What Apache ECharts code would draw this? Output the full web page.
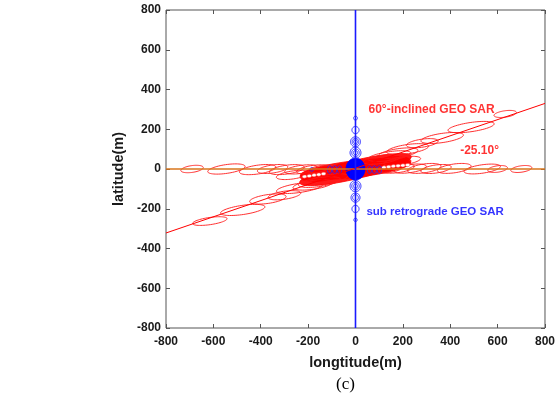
<!DOCTYPE html>
<html><head><meta charset="utf-8">
<script src="https://cdn.jsdelivr.net/npm/echarts@6/dist/echarts.min.js"></script>
<style>html,body{margin:0;padding:0;background:#fff}#c{width:558px;height:403px}</style>
</head><body><div id="c"></div>
<script>
// axis ranges (m)
const xRange = [-800, 800];
const yRange = [-800, 800];
const tickStep = 200;

// reference lines [x1, y1, x2, y2]
const horizLine = [[-800, 0, 800, 0]];
const inclinedLine = [[-800, -322, 800, 330]];
const verticalLine = [[0, -800, 0, 800]];

// red ellipses along the horizontal direction: [cx, cy, semiMajor, semiMinor, tiltDeg]
const redHorizEllipses = [
  [-690, 0, 48, 17, 10], [-545, 0, 80, 22, 10], [-413, -3, 78, 22, 10],
  [-350, 0, 65, 20, 10], [-290, -3, 75, 22, 10], [-265, -30, 70, 20, 10],
  [-230, -2, 70, 20, 10], [-180, -2, 70, 20, 10], [-140, 0, 60, 18, 10],
  [700, 0, 45, 16, 10], [600, 0, 42, 16, 10], [535, 0, 78, 21, 10],
  [417, 3, 72, 22, 10], [340, 0, 65, 20, 10], [290, 3, 72, 22, 10],
  [230, 2, 70, 20, 10], [198, 40, 78, 20, 10], [180, 2, 70, 20, 10],
  [140, 0, 60, 18, 10]
];
// red ellipses along the inclined direction
const redInclEllipses = [
  [-615, -262, 74, 18, 10], [-476, -206, 95, 23, 10], [-370, -151, 78, 22, 10],
  [-300, -132, 70, 20, 10], [-236, -95, 99, 23, 10], [-180, -80, 85, 22, 10],
  [-152, -66, 90, 22, 10], [-110, -48, 80, 20, 10],
  [632, 277, 48, 16, 10], [488, 211, 99, 23, 10], [366, 156, 91, 23, 10],
  [282, 130, 68, 20, 10], [220, 100, 90, 23, 10], [180, 80, 85, 22, 10],
  [143, 65, 92, 22, 10], [110, 48, 80, 20, 10]
];
// dense red core
const redCore = [
  [0, 0, 235, 42, 8], [0, -3, 245, 46, 16],
  [-140, -25, 95, 34, 10], [140, 25, 95, 34, 10]
];
// small white ellipses inside the red core
const whiteChain = [
  [-215, -38, 10, 8, 10], [-195, -35, 10, 8, 10], [-175, -31, 10, 8, 10],
  [-155, -28, 10, 8, 10], [-135, -24, 10, 8, 10],
  [120, 8, 10, 8, 10], [140, 11, 10, 8, 10], [160, 14, 10, 8, 10],
  [180, 16, 10, 8, 10], [200, 18, 10, 8, 10], [220, 20, 10, 8, 10]
];
// blue rings: [cx, cy, rx, ry]
const blueRings = [
  [0, 256, 8, 10], [0, 196, 15, 18], [0, 137, 21, 25], [0, 137, 14, 17], [0, 137, 8, 10],
  [0, 82, 23, 28], [0, 82, 16, 19], [0, 82, 9, 11],
  [0, -86, 23, 28], [0, -86, 16, 19], [0, -86, 9, 11],
  [0, -144, 19, 23], [0, -144, 12, 15], [0, -201, 15, 18], [0, -256, 7, 9],
  [-185, -2, 7, 10], [-109, -3, 9, 20], [-88, -3, 9, 20], [-67, -3, 9, 20],
  [59, -3, 9, 20], [80, -3, 9, 20], [101, -3, 9, 20]
];
const blueBlob = [[0, 0, 40, 55]];

// annotations: [x, y, text]
const redLabels = [[55, 297, '60°-inclined GEO SAR'], [442, 92, '-25.10°']];
const blueLabels = [[46, -215, 'sub retrograde GEO SAR']];

function ellipseRenderer(fill, stroke, lw) {
  return function (params, api) {
    const cx = api.value(0), cy = api.value(1), a = api.value(2), b = api.value(3);
    const t = (api.value(4) || 0) * Math.PI / 180;
    const pts = [];
    for (let i = 0; i < 64; i++) {
      const s = i / 64 * 2 * Math.PI;
      const ex = a * Math.cos(s), ey = b * Math.sin(s);
      pts.push(api.coord([cx + ex * Math.cos(t) - ey * Math.sin(t), cy + ex * Math.sin(t) + ey * Math.cos(t)]));
    }
    return { type: 'polygon', shape: { points: pts }, style: { fill: fill, stroke: stroke, lineWidth: lw } };
  };
}
function segmentRenderer(stroke, lw) {
  return function (params, api) {
    const p1 = api.coord([api.value(0), api.value(1)]);
    const p2 = api.coord([api.value(2), api.value(3)]);
    return { type: 'line', shape: { x1: p1[0], y1: p1[1], x2: p2[0], y2: p2[1] }, style: { stroke: stroke, lineWidth: lw, fill: null } };
  };
}
function ringData(arr) { return arr.map(r => [r[0], r[1], r[2], r[3], 0]); }

const chart = echarts.init(document.getElementById('c'), null, { renderer: 'canvas' });
const lblFont = { fontFamily: 'Liberation Sans, Arial, sans-serif', fontWeight: 'bold', fontSize: 12, color: '#1a1a1a' };
function tickStyle() { return { show: true, inside: true, length: 4, lineStyle: { color: '#555' } }; }
function noLine() { return { show: false, onZero: false }; }

chart.setOption({
  animation: false,
  backgroundColor: '#fff',
  grid: { left: 166, top: 10, width: 380, height: 318, show: true, borderColor: '#555', borderWidth: 1, backgroundColor: 'transparent' },
  xAxis: [
    { type: 'value', min: xRange[0], max: xRange[1], interval: tickStep, position: 'bottom',
      axisLine: noLine(), axisTick: tickStyle(), splitLine: { show: false },
      axisLabel: Object.assign({ margin: 8 }, lblFont),
      name: 'longtitude(m)', nameLocation: 'middle', nameGap: 27,
      nameTextStyle: { fontFamily: 'Liberation Sans, Arial, sans-serif', fontWeight: 'bold', fontSize: 14.5, color: '#1a1a1a' } },
    { type: 'value', min: xRange[0], max: xRange[1], interval: tickStep, position: 'top',
      axisLine: noLine(), axisTick: tickStyle(), splitLine: { show: false },
      axisLabel: { show: false } }
  ],
  yAxis: [
    { type: 'value', min: yRange[0], max: yRange[1], interval: tickStep, position: 'left',
      axisLine: noLine(), axisTick: tickStyle(), splitLine: { show: false },
      axisLabel: Object.assign({ margin: 5 }, lblFont),
      name: 'latitude(m)', nameLocation: 'middle', nameGap: 36,
      nameTextStyle: { fontFamily: 'Liberation Sans, Arial, sans-serif', fontWeight: 'bold', fontSize: 14.5, color: '#1a1a1a' } },
    { type: 'value', min: yRange[0], max: yRange[1], interval: tickStep, position: 'right',
      axisLine: noLine(), axisTick: tickStyle(), splitLine: { show: false },
      axisLabel: { show: false } }
  ],
  series: [
    { type: 'custom', silent: true, renderItem: ellipseRenderer('rgba(255,0,0,0.9)', '#ff0000', 0.8), data: redCore, encode: { x: 0, y: 1 }, z: 2 },
    { type: 'custom', silent: true, renderItem: ellipseRenderer(null, '#ff1a1a', 0.9), data: redHorizEllipses.concat(redInclEllipses), encode: { x: 0, y: 1 }, z: 3 },
    { type: 'custom', silent: true, renderItem: ellipseRenderer('#ffffff', '#ff3030', 0.6), data: whiteChain, encode: { x: 0, y: 1 }, z: 4 },
    { type: 'custom', silent: true, renderItem: ellipseRenderer('#0000ff', '#0000ff', 0.8), data: ringData(blueBlob), encode: { x: 0, y: 1 }, z: 5 },
    { type: 'custom', silent: true, renderItem: ellipseRenderer(null, '#2a2aff', 1), data: ringData(blueRings), encode: { x: 0, y: 1 }, z: 5 },
    { type: 'custom', silent: true, renderItem: segmentRenderer('#d9761c', 1.4), data: horizLine, encode: { x: [0, 2], y: [1, 3] }, z: 6 },
    { type: 'custom', silent: true, renderItem: segmentRenderer('#ff0000', 1), data: inclinedLine, encode: { x: [0, 2], y: [1, 3] }, z: 6 },
    { type: 'custom', silent: true, renderItem: segmentRenderer('#1a1aff', 1.6), data: verticalLine, encode: { x: [0, 2], y: [1, 3] }, z: 10 },
    { type: 'scatter', silent: true, symbolSize: 0, z: 8,
      data: redLabels.map(d => ({ value: [d[0], d[1]], name: d[2] })),
      label: { show: true, formatter: '{b}', position: [0, 0], align: 'left', verticalAlign: 'middle',
        fontFamily: 'Liberation Sans, Arial, sans-serif', fontWeight: 'bold', fontSize: 12, color: '#ff0000' } },
    { type: 'scatter', silent: true, symbolSize: 0, z: 8,
      data: blueLabels.map(d => ({ value: [d[0], d[1]], name: d[2] })),
      label: { show: true, formatter: '{b}', position: [0, 0], align: 'left', verticalAlign: 'middle',
        fontFamily: 'Liberation Sans, Arial, sans-serif', fontWeight: 'bold', fontSize: 11.5, color: '#0000ff' } }
  ],
  graphic: [
    { type: 'text', left: 336, top: 376, style: { text: '(c)', font: '17px "Liberation Serif", "Times New Roman", serif', fill: '#000' } }
  ]
});
</script></body></html>
